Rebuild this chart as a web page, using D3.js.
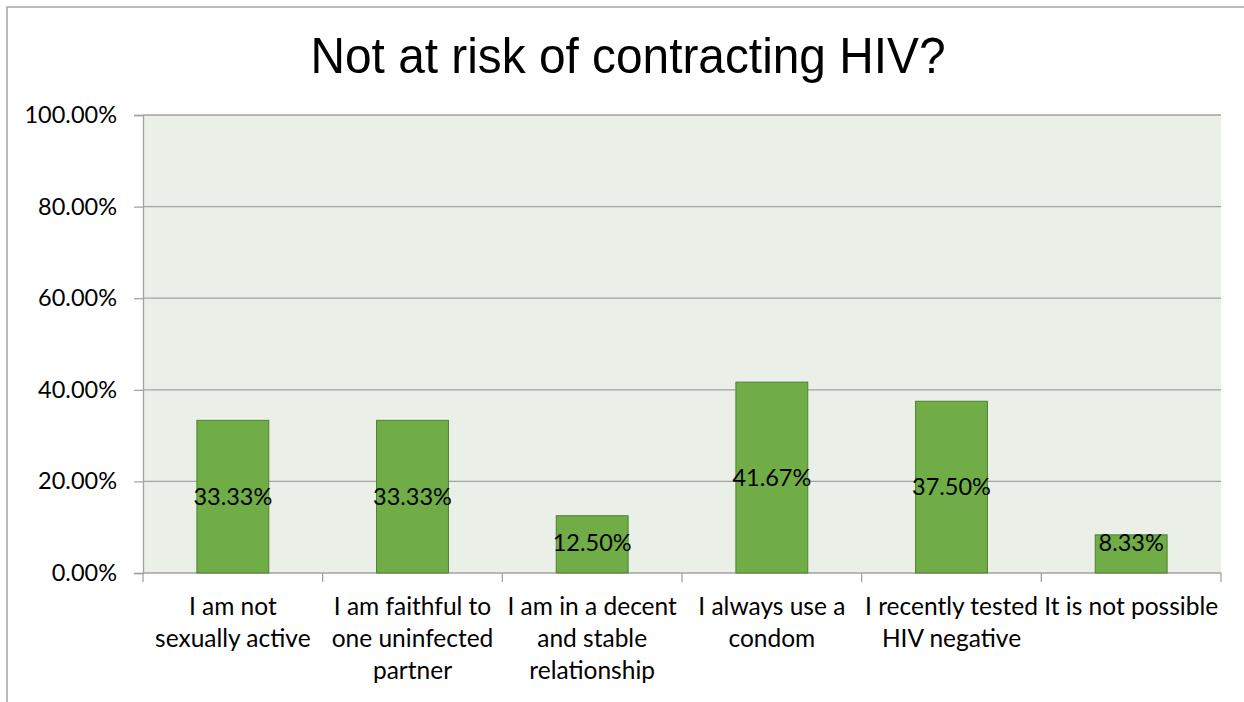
<!DOCTYPE html>
<html>
<head>
<meta charset="utf-8">
<script src="https://cdn.jsdelivr.net/npm/d3@7"></script>
<style>
  html, body { margin: 0; padding: 0; background: #ffffff; }
  svg { display: block; }
</style>
</head>
<body>
<svg id="chart" width="1244" height="702"></svg>
<script>
// Survey responses: reasons for not being at risk of contracting HIV
const categories = [
  "I am not sexually active",
  "I am faithful to one uninfected partner",
  "I am in a decent and stable relationship",
  "I always use a condom",
  "I recently tested HIV negative",
  "It is not possible"
];
// Wrapped category labels, one array of lines per category
const categoryLines = [
  ["I am not", "sexually active"],
  ["I am faithful to", "one uninfected", "partner"],
  ["I am in a decent", "and stable", "relationship"],
  ["I always use a", "condom"],
  ["I recently tested", "HIV negative"],
  ["It is not possible"]
];
const shares = [33.33, 33.33, 12.50, 41.67, 37.50, 8.33];
const yTicks = [0, 20, 40, 60, 80, 100];
const chartTitle = "Not at risk of contracting HIV?";

const svg = d3.select("#chart");
const W = 1244, H = 702;
const plot = { left: 143, right: 1221, top: 115, bottom: 573 };
const labelFont = "Lato, 'Open Sans', sans-serif";

// Chart frame (extends past the right and bottom edges of the view)
svg.append("rect")
  .attr("x", 7).attr("y", 7)
  .attr("width", W + 20).attr("height", H + 20)
  .attr("fill", "#ffffff")
  .attr("stroke", "#a6a6a6")
  .attr("stroke-width", 1.5);

const x = d3.scaleBand()
  .domain(categories)
  .range([plot.left, plot.right])
  .paddingInner(0.6)
  .paddingOuter(0.3);

const band = d3.scaleBand()
  .domain(categories)
  .range([plot.left, plot.right]);

const y = d3.scaleLinear()
  .domain([0, 100])
  .range([plot.bottom, plot.top]);

// Plot area background
svg.append("rect")
  .attr("x", plot.left).attr("y", plot.top)
  .attr("width", plot.right - plot.left)
  .attr("height", plot.bottom - plot.top)
  .attr("fill", "#eaefe8");

// Horizontal gridlines
svg.append("g")
  .selectAll("line")
  .data(yTicks.filter(t => t > 0))
  .join("line")
  .attr("x1", plot.left).attr("x2", plot.right)
  .attr("y1", d => y(d)).attr("y2", d => y(d))
  .attr("stroke", "#a3a3a3")
  .attr("stroke-width", 1.3);

// Y axis
const yAxis = d3.axisLeft(y)
  .tickValues(yTicks)
  .tickFormat(d => d.toFixed(2) + "%")
  .tickSize(9)
  .tickPadding(17);
const gy = svg.append("g")
  .attr("transform", `translate(${plot.left},0)`)
  .call(yAxis);
gy.select(".domain").attr("stroke", "#a3a3a3").attr("stroke-width", 1.3);
gy.selectAll(".tick line").attr("stroke", "#a3a3a3").attr("stroke-width", 1.3);
gy.selectAll(".tick text")
  .attr("font-family", labelFont)
  .attr("font-size", 23.5)
  .attr("fill", "#000");

// X axis baseline and category dividers
const gx = svg.append("g");
gx.append("line")
  .attr("x1", plot.left).attr("x2", plot.right)
  .attr("y1", plot.bottom).attr("y2", plot.bottom)
  .attr("stroke", "#a3a3a3").attr("stroke-width", 1.3);
const dividers = categories.map(c => band(c)).concat([band(categories[categories.length - 1]) + band.bandwidth()]);
gx.selectAll("line.div")
  .data(dividers)
  .join("line")
  .attr("class", "div")
  .attr("x1", d => d).attr("x2", d => d)
  .attr("y1", plot.bottom).attr("y2", plot.bottom + 9)
  .attr("stroke", "#a3a3a3").attr("stroke-width", 1.3);

// Bars
svg.append("g")
  .selectAll("rect")
  .data(shares)
  .join("rect")
  .attr("x", (d, i) => x(categories[i]))
  .attr("width", x.bandwidth())
  .attr("y", d => y(d))
  .attr("height", d => y(0) - y(d))
  .attr("fill", "#70ad47")
  .attr("stroke", "#4f7f31")
  .attr("stroke-width", 1);

// Value labels, centred in each bar
svg.append("g")
  .selectAll("text")
  .data(shares)
  .join("text")
  .attr("x", (d, i) => x(categories[i]) + x.bandwidth() / 2)
  .attr("y", d => Math.min((y(d) + y(0)) / 2, y(0) - 30))
  .attr("dy", "0.35em")
  .attr("text-anchor", "middle")
  .attr("font-family", labelFont)
  .attr("font-size", 23.5)
  .attr("fill", "#000")
  .text(d => d.toFixed(2) + "%");

// Category labels
const catG = svg.append("g");
categoryLines.forEach((lines, i) => {
  const cx = band(categories[i]) + band.bandwidth() / 2;
  const t = catG.append("text")
    .attr("text-anchor", "middle")
    .attr("font-family", labelFont)
    .attr("font-size", 24.5)
    .attr("fill", "#000");
  lines.forEach((ln, j) => {
    t.append("tspan")
      .attr("x", cx)
      .attr("y", 615 + j * 32)
      .text(ln);
  });
});

// Title
svg.append("text")
  .attr("x", 628)
  .attr("y", 73)
  .attr("text-anchor", "middle")
  .attr("font-family", "'Liberation Sans', Arial, sans-serif")
  .attr("font-size", 50)
  .attr("textLength", 635)
  .attr("lengthAdjust", "spacingAndGlyphs")
  .attr("fill", "#000")
  .text(chartTitle);
</script>
</body>
</html>
